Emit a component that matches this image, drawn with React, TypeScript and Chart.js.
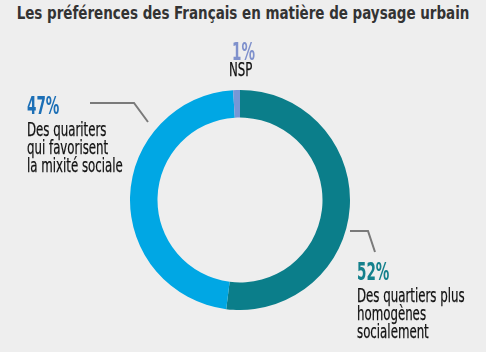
import React, { useEffect, useRef } from "react";
import { Chart, registerables } from "chart.js";

Chart.register(...registerables);

const titleText = "Les préférences des Français en matière de paysage urbain";
const categories = ["Des quartiers plus homogènes socialement", "Des quariters qui favorisent la mixité sociale", "NSP"];
const values = [52, 47, 1];
const colors = ["#0b7e8a", "#00a7e4", "#7797d6"];
const pctColors = ["#14808c", "#1c6fb6", "#7f91cc"];
const labelLines = [
  ["Des quartiers plus", "homogènes", "socialement"],
  ["Des quariters", "qui favorisent", "la mixité sociale"],
  ["NSP"],
];

const condensed = "'DejaVu Sans Condensed', 'DejaVu Sans', sans-serif";

export default function App() {
  const ref = useRef<HTMLCanvasElement>(null);
  useEffect(() => {
    const chart = new Chart(ref.current!, {
      type: "doughnut",
      data: {
        labels: categories,
        datasets: [{ data: values, backgroundColor: colors, borderWidth: 0 }],
      },
      options: {
        animation: false,
        responsive: false,
        cutout: "75%",
        rotation: 0,
        layout: { padding: 0 },
        plugins: { legend: { display: false }, tooltip: { enabled: false }, title: { display: false } },
      },
    });
    return () => chart.destroy();
  }, []);

  const pct: React.CSSProperties = { fontFamily: condensed, fontStretch: "condensed", fontWeight: 700, fontSize: 25, lineHeight: "26px", whiteSpace: "nowrap", transform: "scaleX(0.6)", transformOrigin: "left top" };
  const body: React.CSSProperties = { fontFamily: condensed, fontStretch: "condensed", fontSize: 19, lineHeight: "18px", color: "#111", whiteSpace: "nowrap", transform: "scaleX(0.69)", transformOrigin: "left top", WebkitTextStroke: "0.25px #111" };

  return (
    <div style={{ position: "fixed", left: 0, top: 0, width: 486, height: 352, background: "#eeeeee", overflow: "hidden" }}>
      <div style={{ position: "absolute", left: -157, top: 3, width: 800, textAlign: "center", fontFamily: condensed, fontStretch: "condensed", fontWeight: 700, fontSize: 17.5, color: "#333", whiteSpace: "nowrap", transform: "scaleX(0.855)", transformOrigin: "center top" }}>
        {titleText}
      </div>
      <canvas ref={ref} width={220} height={220} style={{ position: "absolute", left: 130, top: 90, width: 220, height: 220 }} />
      <svg width={486} height={352} style={{ position: "absolute", left: 0, top: 0 }}>
        <polyline points="90,103 134,103 148,122" fill="none" stroke="#7a7a7a" strokeWidth={2} />
        <polyline points="350,231 368,231 375,252" fill="none" stroke="#7a7a7a" strokeWidth={2} />
      </svg>
      <div style={{ position: "absolute", left: 27, top: 93 }}>
        <div style={{ ...pct, color: pctColors[1] }}>{values[1]}%</div>
        <div style={{ ...body, marginTop: 1 }}>{labelLines[1].map((l, i) => <div key={i}>{l}</div>)}</div>
      </div>
      <div style={{ position: "absolute", left: 232, top: 39 }}>
        <div style={{ ...pct, color: pctColors[2] }}>{values[2]}%</div>
      </div>
      <div style={{ position: "absolute", left: 229, top: 60 }}>
        <div style={{ ...body }}>{labelLines[2][0]}</div>
      </div>
      <div style={{ position: "absolute", left: 357, top: 259 }}>
        <div style={{ ...pct, color: pctColors[0] }}>{values[0]}%</div>
        <div style={{ ...body, marginTop: 1 }}>{labelLines[0].map((l, i) => <div key={i}>{l}</div>)}</div>
      </div>
    </div>
  );
}
